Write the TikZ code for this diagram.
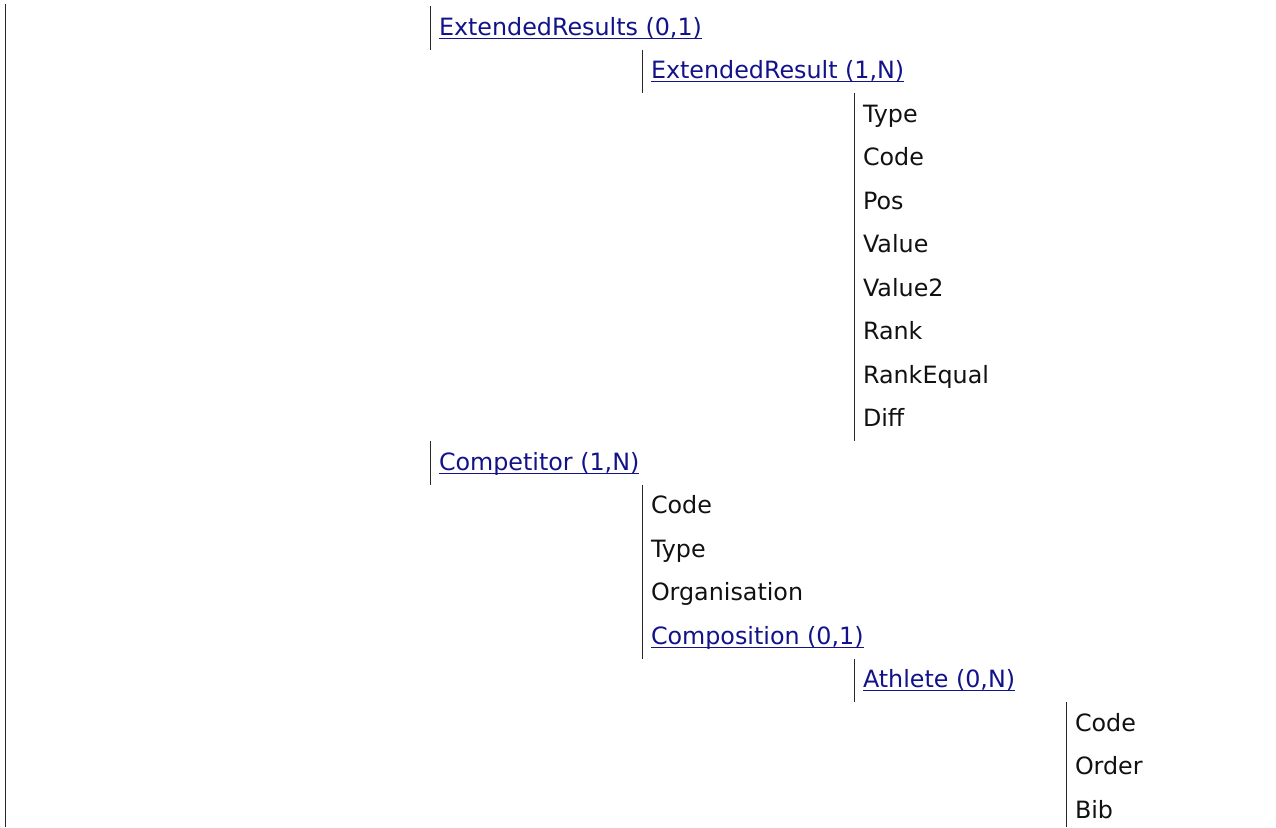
\documentclass[tikz,border=0pt]{standalone}
\usepackage{fontspec}
\setmainfont{DejaVu Sans}
\definecolor{linkblue}{RGB}{18,18,138}
\definecolor{plaintext}{RGB}{17,17,17}
\definecolor{barcol}{RGB}{40,40,40}
\begin{document}
\begin{tikzpicture}[x=1pt,y=-1pt,
  every node/.style={inner sep=0pt,outer sep=0pt,anchor=base west,
    font=\fontsize{23.8}{28}\selectfont},
  field/.style={text=plaintext},
  link/.style={text=linkblue},
  uline/.style={draw=linkblue,line width=1.4pt},
  bar/.style={draw=barcol,line width=1.1pt}]
\useasboundingbox (0,0) rectangle (1276,827);

% row baselines: 35 + 43.5*i ; column text offsets 439 / 651 / 863 / 1075
\def\rowy#1{\fpeval{35+43.5*#1}}

% ---- nodes ----
\node[link]  (extres)  at (439,\rowy{0})  {ExtendedResults (0,1)};
\node[link]  (extr)    at (651,\rowy{1})  {ExtendedResult (1,N)};
\node[field] (ertype)  at (863,\rowy{2})  {Type};
\node[field] (ercode)  at (863,\rowy{3})  {Code};
\node[field] (erpos)   at (863,\rowy{4})  {Pos};
\node[field] (erval)   at (863,\rowy{5})  {Value};
\node[field] (erval2)  at (863,\rowy{6})  {Value2};
\node[field] (errank)  at (863,\rowy{7})  {Rank};
\node[field] (erreq)   at (863,\rowy{8})  {RankEqual};
\node[field] (erdiff)  at (863,\rowy{9})  {Diff};
\node[link]  (comp)    at (439,\rowy{10}) {Competitor (1,N)};
\node[field] (ccode)   at (651,\rowy{11}) {Code};
\node[field] (ctype)   at (651,\rowy{12}) {Type};
\node[field] (corg)    at (651,\rowy{13}) {Organisation};
\node[link]  (ccompo)  at (651,\rowy{14}) {Composition (0,1)};
\node[link]  (ath)     at (863,\rowy{15}) {Athlete (0,N)};
\node[field] (acode)   at (1075,\rowy{16}) {Code};
\node[field] (aorder)  at (1075,\rowy{17}) {Order};
\node[field] (abib)    at (1075,\rowy{18}) {Bib};

% ---- underlines of the linked entries ----
\foreach \n in {extres,extr,comp,ccompo,ath}
  \draw[uline] ([yshift=-3.2pt]\n.base west) -- ([yshift=-3.2pt]\n.base east);

% ---- group bars ----
\coordinate (b0t) at (5.5,4);     \coordinate (b0b) at (5.5,827);
\coordinate (b1t) at (430.5,6);   \coordinate (b1b) at (430.5,49.5);
\coordinate (b2t) at (642.5,49.5);\coordinate (b2b) at (642.5,93);
\coordinate (b3t) at (854.5,93);  \coordinate (b3b) at (854.5,441);
\coordinate (b4t) at (430.5,441); \coordinate (b4b) at (430.5,484.5);
\coordinate (b5t) at (642.5,484.5);\coordinate (b5b) at (642.5,658.5);
\coordinate (b6t) at (854.5,658.5);\coordinate (b6b) at (854.5,702);
\coordinate (b7t) at (1066.5,702);\coordinate (b7b) at (1066.5,827);
\foreach \i in {0,...,7}
  \draw[bar] (b\i t) -- (b\i b);
\end{tikzpicture}
\end{document}
